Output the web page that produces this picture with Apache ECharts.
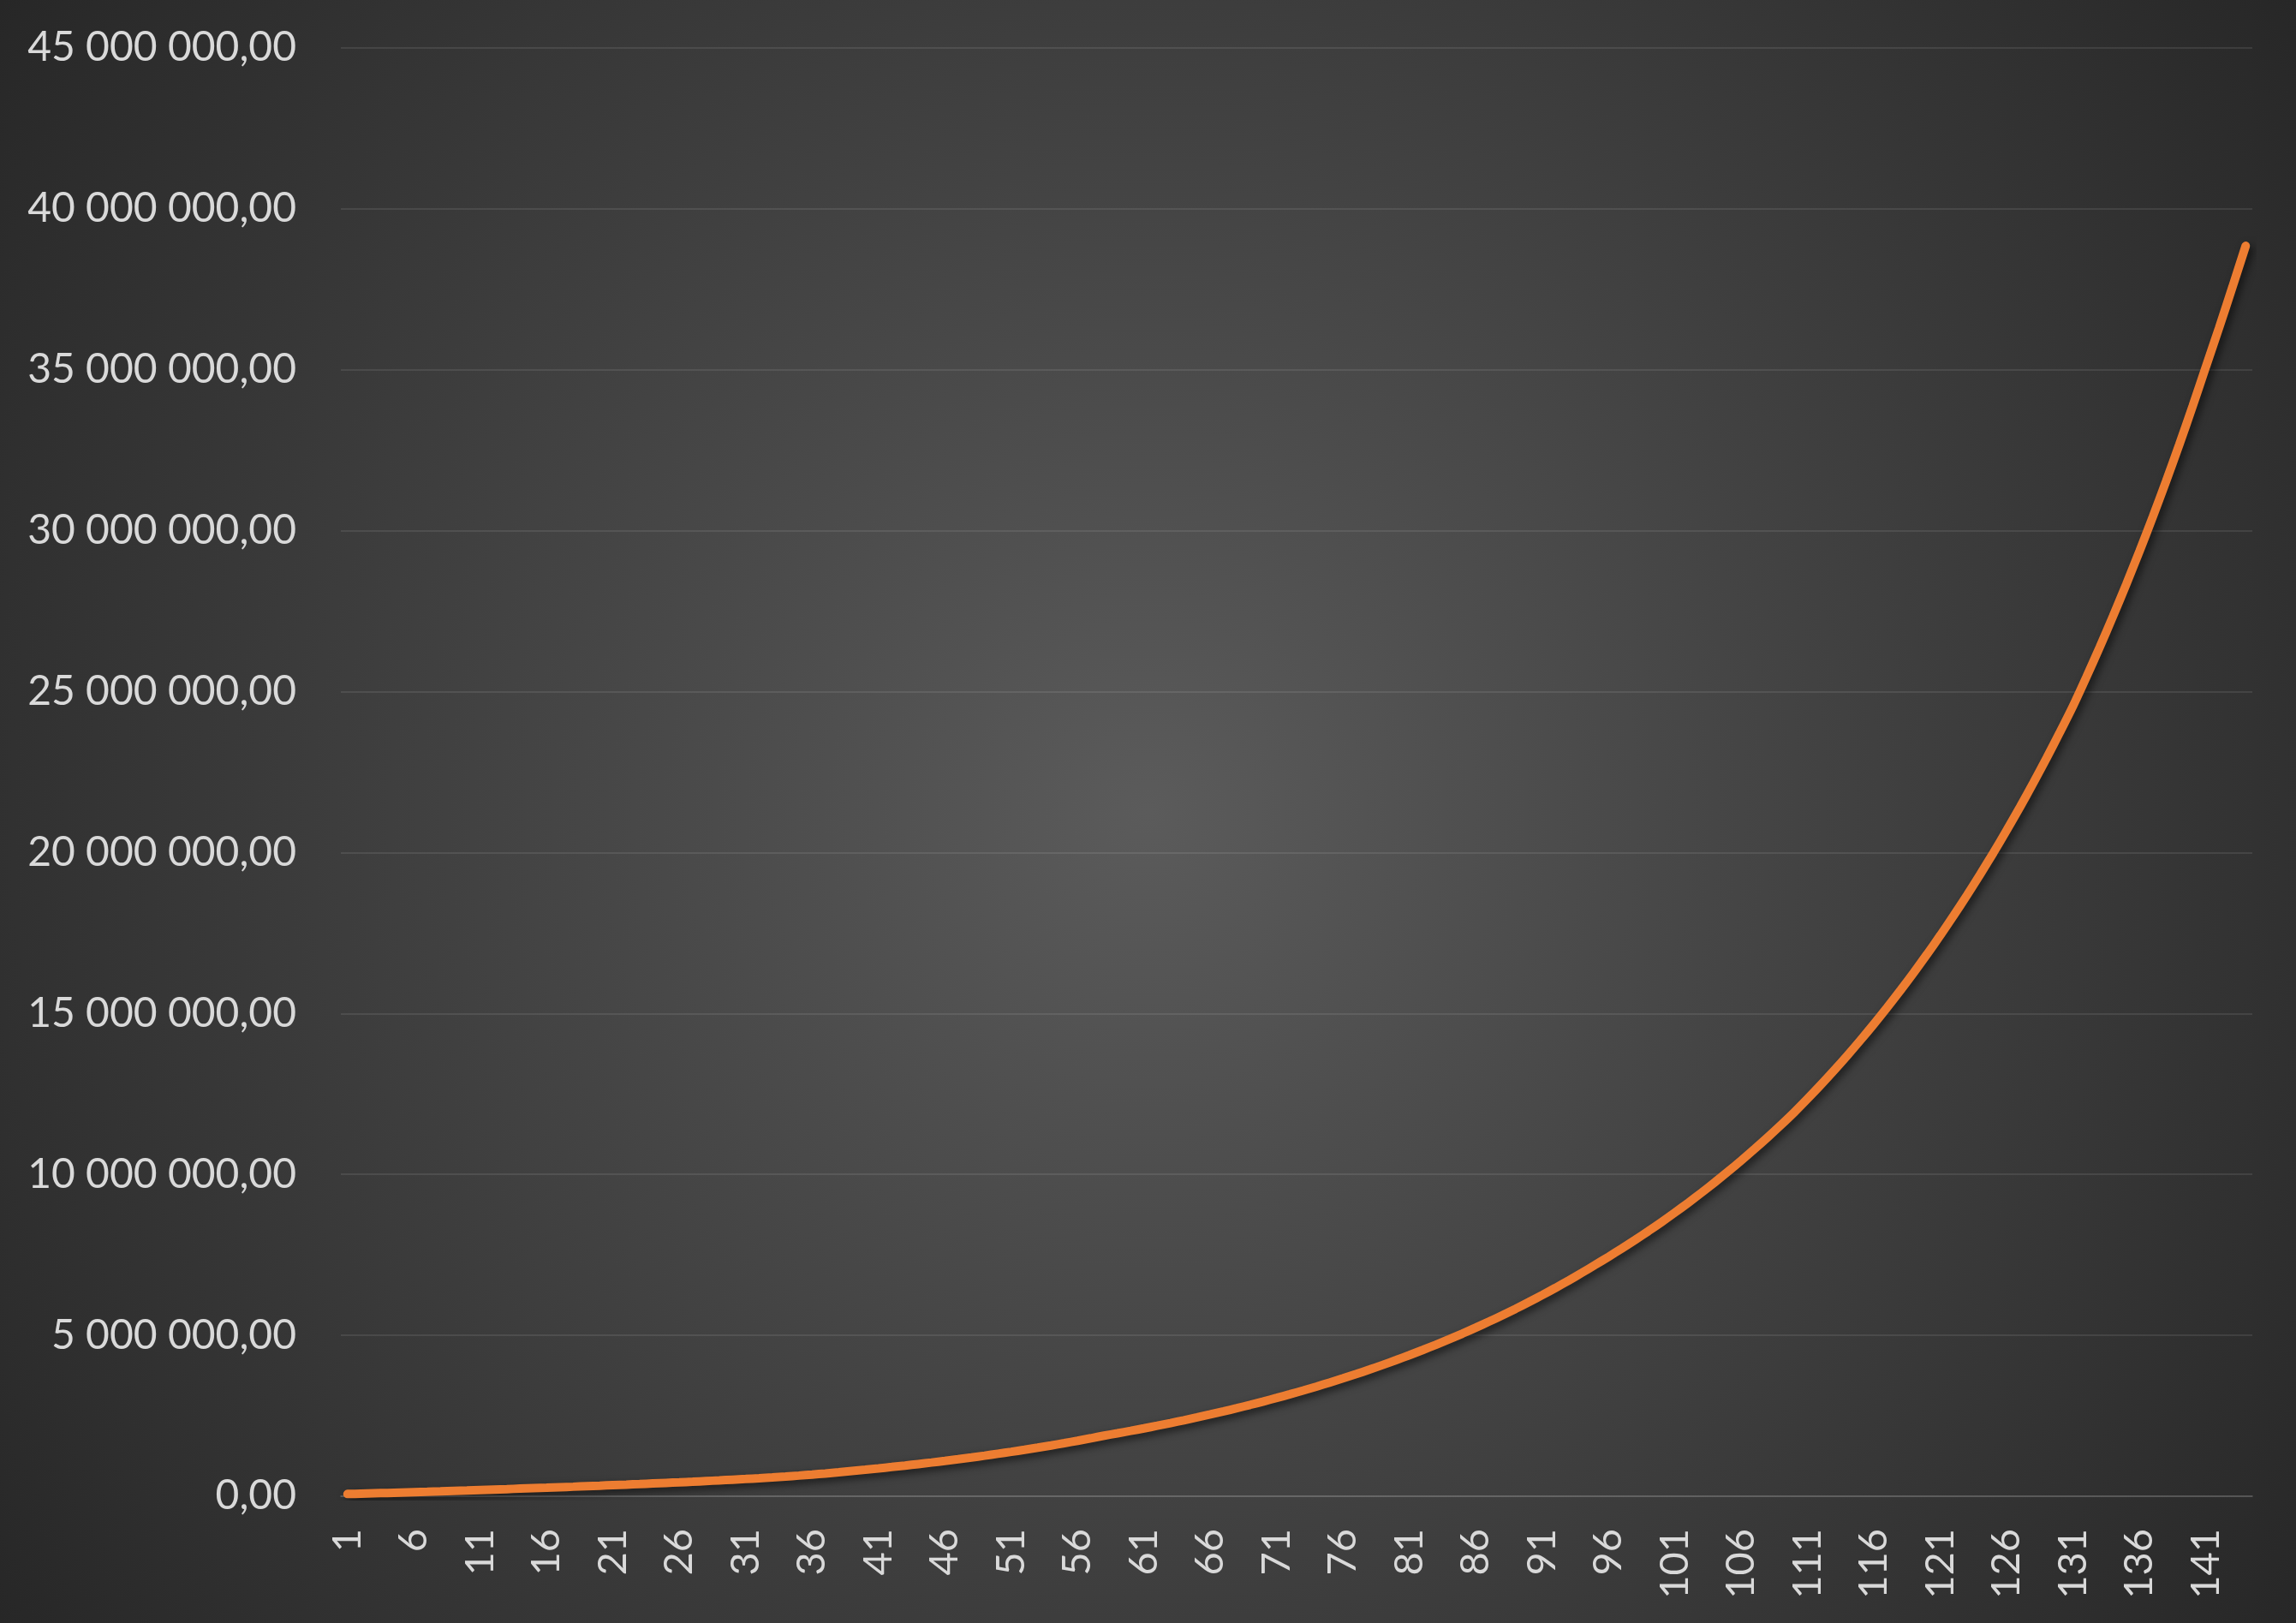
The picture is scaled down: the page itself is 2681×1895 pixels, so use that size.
<!DOCTYPE html>
<html>
<head>
<meta charset="utf-8">
<script src="https://cdn.jsdelivr.net/npm/echarts@6/dist/echarts.min.js"></script>
<style>
  html, body { margin: 0; padding: 0; }
  #chart { width: 2681px; height: 1895px; }
</style>
</head>
<body>
<div id="chart"></div>
<script>
// periods 1..144
var categories = Array.from({ length: 144 }, function (_, i) { return String(i + 1); });

// balance per period
var values = [
  70000, 81000, 92000, 103000, 115000, 127000, 139000, 152000, 166000, 179000,
  194000, 209000, 222000, 237000, 251000, 265000, 281000, 296000, 312000, 328000,
  345000, 361000, 378000, 396000, 414000, 432000, 451000, 472000, 493000, 515000,
  537000, 560000, 585000, 612000, 642000, 674000, 708000, 745000, 787000, 825000,
  866000, 909000, 953000, 1000000, 1048000, 1098000, 1150000, 1204000, 1261000, 1320000,
  1380000, 1444000, 1510000, 1578000, 1650000, 1724000, 1802000, 1882000, 1955000, 2031000,
  2109000, 2190000, 2273000, 2360000, 2450000, 2542000, 2638000, 2737000, 2840000, 2946000,
  3056000, 3169000, 3287000, 3408000, 3534000, 3664000, 3798000, 3937000, 4081000, 4230000,
  4384000, 4544000, 4708000, 4879000, 5055000, 5238000, 5427000, 5622000, 5824000, 6033000,
  6249000, 6473000, 6704000, 6944000, 7191000, 7440000, 7697000, 7963000, 8237000, 8520000,
  8814000, 9117000, 9430000, 9753000, 10087000, 10433000, 10790000, 11158000, 11539000, 11933000,
  12353000, 12786000, 13235000, 13700000, 14181000, 14677000, 15192000, 15724000, 16274000, 16844000,
  17432000, 18041000, 18672000, 19323000, 19997000, 20695000, 21417000, 22163000, 22936000, 23735000,
  24561000, 25455000, 26381000, 27340000, 28333000, 29362000, 30429000, 31533000, 32679000, 33864000,
  35093000, 36311000, 37571000, 38850000
];

var yMin = 0;
var yMax = 45000000;
var yStep = 5000000;

function fmtMoney(v) {
  var s = String(Math.round(v));
  s = s.replace(/\B(?=(\d{3})+(?!\d))/g, ' ');
  return s + ',00';
}

var chart = echarts.init(document.getElementById('chart'));
var option = {
  backgroundColor: {
    type: 'radial',
    x: 0.5,
    y: 0.5,
    r: 0.9,
    colorStops: [
      { offset: 0, color: '#5b5b5b' },
      { offset: 1, color: '#252525' }
    ]
  },
  animation: false,
  textStyle: { fontFamily: 'Lato' },
  grid: {
    left: 398,
    right: 51,
    top: 56,
    bottom: 148
  },
  xAxis: {
    type: 'category',
    boundaryGap: true,
    data: categories,
    axisLine: { show: true, lineStyle: { color: 'rgba(255,255,255,0.12)', width: 2 } },
    axisTick: { show: false },
    axisLabel: {
      interval: 4,
      rotate: 90,
      margin: 38,
      color: '#d9d9d9',
      fontSize: 47,
      fontFamily: 'Lato'
    }
  },
  yAxis: {
    type: 'value',
    min: yMin,
    max: yMax,
    interval: yStep,
    axisLine: { show: false },
    axisTick: { show: false },
    axisLabel: {
      margin: 52,
      color: '#d9d9d9',
      fontSize: 48,
      fontFamily: 'Lato',
      formatter: fmtMoney
    },
    splitLine: { lineStyle: { color: 'rgba(255,255,255,0.09)', width: 2 } }
  },
  series: [
    {
      type: 'line',
      data: values,
      showSymbol: false,
      smooth: 0.3,
      color: '#ed7d31',
      lineStyle: {
        width: 10,
        cap: 'round',
        color: '#ed7d31',
        shadowColor: 'rgba(0,0,0,0.55)',
        shadowBlur: 10,
        shadowOffsetX: 4,
        shadowOffsetY: 4
      }
    }
  ]
};
chart.setOption(option);
</script>
</body>
</html>
